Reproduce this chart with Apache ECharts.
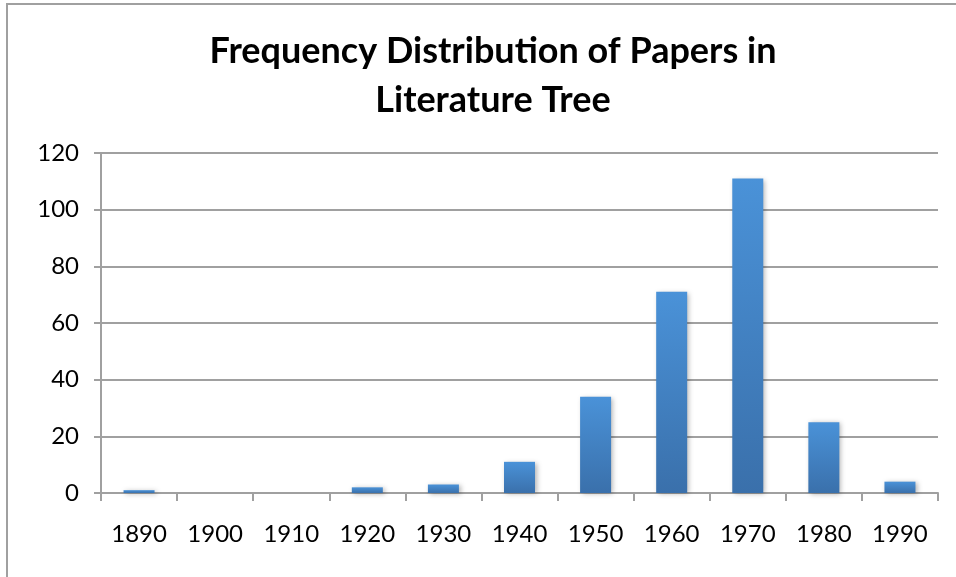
<!DOCTYPE html>
<html>
<head>
<meta charset="utf-8">
<script src="https://cdn.jsdelivr.net/npm/echarts@6/dist/echarts.min.js"></script>
<style>
  html, body { margin: 0; padding: 0; background: #fff; }
  #chart { width: 956px; height: 577px; }
</style>
</head>
<body>
<div id="chart"></div>
<script>
// decades and paper counts
const decades = ['1890', '1900', '1910', '1920', '1930', '1940', '1950', '1960', '1970', '1980', '1990']
const paperCounts = [1, 0, 0, 2, 3, 11, 34, 71, 111, 25, 4]
const yTicks = { min: 0, max: 120, step: 20 }

const chart = echarts.init(document.getElementById('chart'))
chart.setOption({
  backgroundColor: '#fff',
  animation: false,
  textStyle: { fontFamily: 'Lato' },
  title: {
    text: 'Frequency Distribution of Papers in\nLiterature Tree',
    left: 488,
    textAlign: 'center',
    top: 22,
    textStyle: {
      fontFamily: 'Lato',
      fontWeight: 'bold',
      fontSize: 36,
      lineHeight: 49,
      color: '#000',
    },
  },
  // the frame of the chart area, only left and top edges show
  graphic: [
    {
      type: 'rect',
      shape: { x: 7, y: 4, width: 2000, height: 2000 },
      style: { fill: 'none', stroke: '#a0a0a0', lineWidth: 2 },
      silent: true,
    },
  ],
  grid: { left: 101, right: 18, top: 153, bottom: 84 },
  xAxis: {
    type: 'category',
    data: decades,
    axisLine: { show: true, lineStyle: { color: '#a0a0a0', width: 2 } },
    axisTick: { show: true, length: 8, lineStyle: { color: '#a0a0a0', width: 2 } },
    axisLabel: { color: '#000', fontSize: 24, margin: 29, fontFamily: 'Lato' },
  },
  yAxis: {
    type: 'value',
    min: yTicks.min,
    max: yTicks.max,
    interval: yTicks.step,
    axisLine: { show: true, lineStyle: { color: '#a0a0a0', width: 2 } },
    axisTick: { show: true, length: 7, lineStyle: { color: '#a0a0a0', width: 2 } },
    splitLine: { show: true, lineStyle: { color: '#a0a0a0', width: 2 } },
    axisLabel: { color: '#000', fontSize: 24, margin: 22, fontFamily: 'Lato' },
  },
  series: [
    {
      type: 'bar',
      data: paperCounts,
      barWidth: 31,
      itemStyle: {
        color: new echarts.graphic.LinearGradient(0, 0, 0, 1, [
          { offset: 0, color: '#4a92d8' },
          { offset: 1, color: '#3a70ab' },
        ]),
        shadowColor: 'rgba(0,0,0,0.3)',
        shadowBlur: 5,
        shadowOffsetX: 2,
        shadowOffsetY: 1,
      },
    },
  ],
})
</script>
</body>
</html>
